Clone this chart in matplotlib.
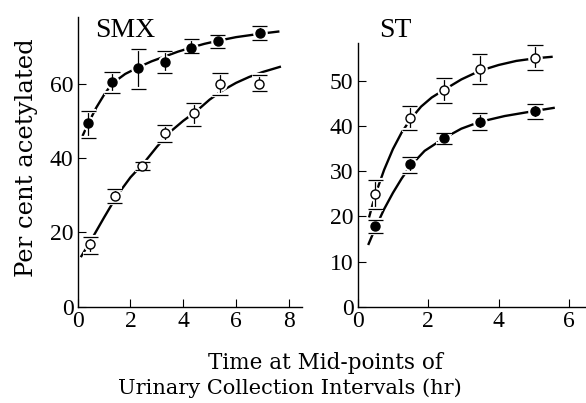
import numpy as np
import matplotlib
matplotlib.use('Agg')
import matplotlib.pyplot as plt
import matplotlib.patheffects as pe

plt.rcParams['font.family'] = ['Liberation Serif', 'DejaVu Serif']

# ---- SMX panel ----
smx_fill_t = [0.4, 1.3, 2.3, 3.3, 4.3, 5.3, 6.9]
smx_fill_y = [49.3, 60.5, 64.2, 65.9, 69.7, 71.4, 73.5]
smx_fill_lo = [45.5, 57.6, 58.5, 62.9, 68.3, 69.6, 71.7]
smx_fill_hi = [52.7, 63.0, 69.3, 68.8, 71.9, 73.0, 75.5]

smx_open_t = [0.48, 1.4, 2.45, 3.3, 4.4, 5.39, 6.88]
smx_open_y = [16.8, 29.8, 37.9, 46.6, 52.0, 60.0, 60.0]
smx_open_lo = [14.2, 27.8, 36.7, 44.2, 48.6, 56.9, 58.1]
smx_open_hi = [18.8, 31.6, 39.0, 49.0, 54.9, 62.9, 62.3]

# fitted curves
smx_fill_ct = [0.2, 0.4, 0.7, 1.0, 1.3, 1.8, 2.3, 2.8, 3.3, 3.8, 4.3, 4.8, 5.3, 6.0, 6.9, 7.6]
smx_fill_cy = [46.2, 49.3, 53.5, 57.0, 60.0, 62.6, 64.4, 66.0, 67.3, 68.6, 69.7, 70.7, 71.5, 72.5, 73.4, 74.0]
smx_open_ct = [0.14, 0.5, 1.0, 1.5, 2.0, 2.5, 3.0, 3.5, 4.0, 4.5, 5.0, 5.5, 6.0, 6.5, 7.0, 7.66]
smx_open_cy = [13.6, 17.8, 24.0, 30.0, 34.8, 38.6, 43.0, 47.0, 50.0, 52.6, 55.7, 58.2, 60.2, 61.8, 63.1, 64.5]

# ---- ST panel ----
st_t = [0.5, 1.48, 2.45, 3.46, 5.03]
st_open_y = [24.9, 41.8, 47.9, 52.6, 55.1]
st_open_lo = [21.6, 39.1, 45.0, 49.3, 52.4]
st_open_hi = [28.0, 44.5, 50.7, 55.9, 57.9]
st_fill_y = [17.9, 31.5, 37.3, 40.9, 43.3]
st_fill_lo = [16.4, 29.7, 36.1, 39.1, 41.5]
st_fill_hi = [19.3, 33.2, 38.5, 42.8, 44.8]

st_open_ct = [0.33, 0.5, 0.75, 1.0, 1.25, 1.5, 1.8, 2.1, 2.45, 2.94, 3.46, 4.0, 4.5, 5.06, 5.5]
st_open_cy = [20.0, 24.8, 30.3, 34.9, 38.6, 41.5, 44.3, 46.3, 48.0, 50.3, 52.2, 53.5, 54.4, 55.0, 55.3]
st_fill_ct = [0.31, 0.5, 0.75, 1.0, 1.25, 1.5, 1.9, 2.45, 2.94, 3.46, 4.17, 5.0, 5.56]
st_fill_cy = [13.9, 17.4, 21.6, 25.2, 28.4, 31.2, 34.5, 37.3, 39.4, 40.9, 42.2, 43.3, 44.0]

W, H = 586, 403
fig = plt.figure(figsize=(W / 100, H / 100), dpi=100)
ax1 = fig.add_axes([77.7 / W, 1 - 306.7 / H, (302 - 77.7) / W, (306.7 - 16.7) / H])
ax2 = fig.add_axes([357.7 / W, 1 - 306.7 / H, (585 - 357.7) / W, (306.7 - 43.3) / H])

halo = [pe.withStroke(linewidth=3, foreground='white')]


def draw_series(ax, t, y, lo, hi, filled):
    yerr = [np.array(y) - np.array(lo), np.array(hi) - np.array(y)]
    # white ring under the marker breaks the curve, like the printed figure
    ax.plot(t, y, 'o', ms=9.5, mfc='white', mec='white', zorder=3)
    line, caps, bars = ax.errorbar(t, y, yerr=yerr, fmt='none', ecolor='black',
                                   elinewidth=0.9, capsize=5.5, capthick=0.9,
                                   zorder=4)
    for c in caps:
        c.set_path_effects(halo)
    for b in bars:
        b.set_path_effects(halo)
    ax.plot(t, y, 'o', ms=6.5, mew=1.0, mec='black',
            mfc='black' if filled else 'white', zorder=6)


for ax in (ax1, ax2):
    for s in ('top', 'right'):
        ax.spines[s].set_visible(False)
    for s in ('left', 'bottom'):
        ax.spines[s].set_linewidth(1.0)
    ax.tick_params(direction='in', length=6, width=0.8, labelsize=17, pad=3)

ax1.plot(smx_fill_ct, smx_fill_cy, color='black', lw=1.7, zorder=2)
ax1.plot(smx_open_ct, smx_open_cy, color='black', lw=1.7, zorder=2)
draw_series(ax1, smx_fill_t, smx_fill_y, smx_fill_lo, smx_fill_hi, True)
draw_series(ax1, smx_open_t, smx_open_y, smx_open_lo, smx_open_hi, False)
ax1.set_xlim(0, 8.5)
ax1.set_ylim(0, 78)
ax1.set_xticks([0, 2, 4, 6, 8])
ax1.set_yticks([0, 20, 40, 60])

ax2.plot(st_open_ct, st_open_cy, color='black', lw=1.7, zorder=2)
ax2.plot(st_fill_ct, st_fill_cy, color='black', lw=1.7, zorder=2)
draw_series(ax2, st_t, st_open_y, st_open_lo, st_open_hi, False)
draw_series(ax2, st_t, st_fill_y, st_fill_lo, st_fill_hi, True)
ax2.set_xlim(0, 6.45)
ax2.set_ylim(0, 58.3)
ax2.set_xticks([0, 2, 4, 6])
ax2.set_yticks([0, 10, 20, 30, 40, 50])

lab = ['DejaVu Serif']
fig.text(95 / W, 1 - 37 / H, 'SMX', fontsize=20, ha='left', va='baseline')
fig.text(395 / W, 1 - 37 / H, 'ST', fontsize=20, ha='center', va='baseline')
fig.text(27 / W, 1 - 158 / H, 'Per cent acetylated', fontsize=17.5, family=lab,
         rotation=90, ha='center', va='center')
fig.text(325 / W, 1 - 363 / H, 'Time at Mid-points of', fontsize=15.5, family=lab,
         ha='center', va='center')
fig.text(290 / W, 1 - 388 / H, 'Urinary Collection Intervals (hr)', fontsize=15,
         family=lab, ha='center', va='center')

fig.savefig('out.png', dpi=100)
